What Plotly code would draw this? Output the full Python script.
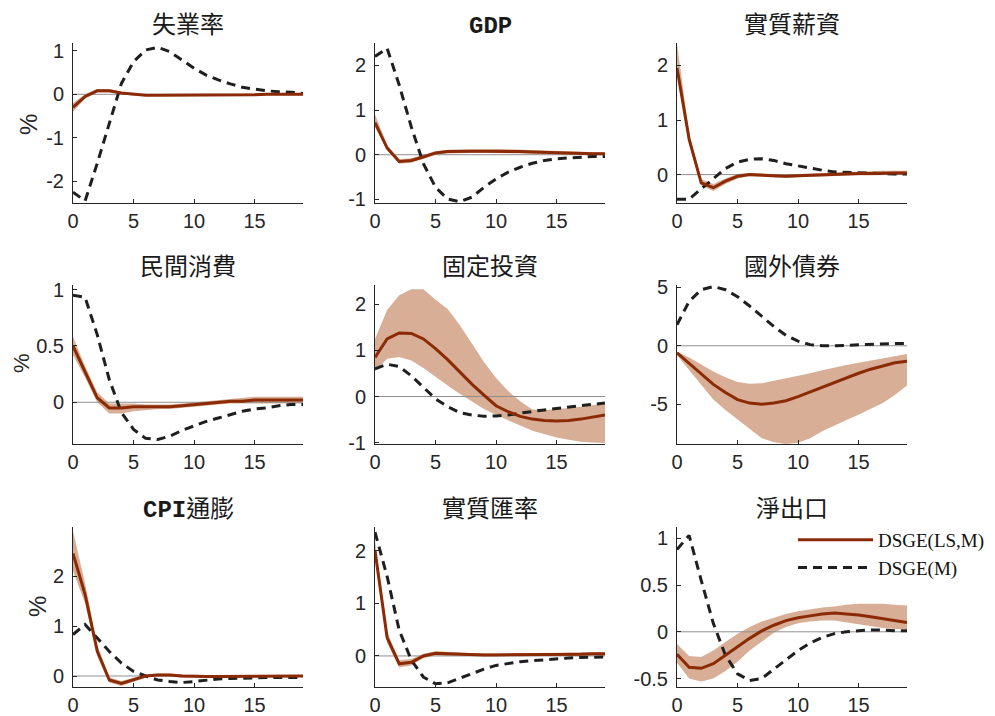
import plotly.graph_objects as go

steps = list(range(20))
titles = ["失業率", "<b>GDP</b>", "實質薪資", "民間消費", "固定投資", "國外債券", "<b>CPI</b>通膨", "實質匯率", "淨出口"]
series_names = ["DSGE(LS,M)", "DSGE(M)"]

# DSGE(LS,M) median, band upper/lower; DSGE(M) line
ls_mid = [
    [-0.30,-0.05,0.08,0.08,0.03,0.00,-0.02,-0.02,-0.02,-0.02,-0.02,-0.02,-0.02,-0.01,-0.01,-0.01,0.00,0.00,0.00,0.00],
    [0.72,0.15,-0.15,-0.13,-0.05,0.04,0.07,0.08,0.08,0.08,0.08,0.07,0.07,0.06,0.05,0.04,0.03,0.03,0.02,0.02],
    [1.95,0.65,-0.15,-0.24,-0.12,-0.03,0.00,-0.01,-0.03,-0.03,-0.02,-0.01,0.00,0.01,0.02,0.02,0.02,0.03,0.03,0.03],
    [0.50,0.27,0.04,-0.05,-0.05,-0.04,-0.04,-0.04,-0.04,-0.03,-0.02,-0.01,0.00,0.01,0.01,0.02,0.02,0.02,0.02,0.02],
    [0.85,1.25,1.38,1.37,1.25,1.04,0.80,0.53,0.27,0.03,-0.20,-0.33,-0.43,-0.49,-0.52,-0.53,-0.52,-0.49,-0.45,-0.40],
    [-0.60,-1.50,-2.40,-3.30,-4.00,-4.60,-4.90,-5.00,-4.90,-4.70,-4.35,-3.95,-3.50,-3.10,-2.70,-2.35,-2.00,-1.70,-1.45,-1.32],
    [2.45,1.63,0.50,-0.08,-0.15,-0.07,0.00,0.02,0.02,0.00,-0.01,-0.01,-0.01,-0.01,-0.01,-0.01,0.00,0.00,0.00,0.00],
    [2.00,0.35,-0.15,-0.12,0.00,0.05,0.04,0.03,0.02,0.02,0.02,0.02,0.03,0.03,0.03,0.03,0.03,0.03,0.04,0.04],
    [-0.24,-0.38,-0.39,-0.34,-0.25,-0.16,-0.07,0.01,0.07,0.12,0.15,0.17,0.19,0.20,0.19,0.18,0.16,0.14,0.12,0.10],
]
ls_upper = [
    [-0.20,0.00,0.12,0.12,0.06,0.02,0.00,0.00,0.00,0.00,0.00,0.00,0.00,0.01,0.01,0.01,0.02,0.02,0.02,0.02],
    [0.90,0.22,-0.10,-0.08,0.00,0.08,0.11,0.12,0.12,0.12,0.13,0.12,0.11,0.10,0.09,0.08,0.07,0.06,0.05,0.05],
    [2.40,0.75,-0.08,-0.17,-0.07,0.01,0.03,0.02,0.00,0.00,0.01,0.02,0.03,0.04,0.05,0.06,0.06,0.07,0.07,0.07],
    [0.58,0.32,0.09,-0.01,-0.01,-0.01,-0.02,-0.02,-0.02,-0.01,0.00,0.01,0.02,0.03,0.04,0.05,0.05,0.05,0.05,0.05],
    [1.25,1.88,2.20,2.33,2.33,2.10,1.90,1.55,1.15,0.75,0.40,0.12,-0.10,-0.28,-0.30,-0.28,-0.25,-0.22,-0.18,-0.15],
    [-0.50,-1.00,-1.60,-2.20,-2.70,-3.10,-3.25,-3.20,-3.00,-2.80,-2.60,-2.35,-2.10,-1.85,-1.65,-1.45,-1.25,-1.05,-0.85,-0.70],
    [2.90,1.85,0.62,-0.03,-0.10,-0.03,0.03,0.05,0.05,0.03,0.02,0.02,0.02,0.02,0.02,0.02,0.03,0.03,0.03,0.02],
    [2.20,0.45,-0.08,-0.06,0.04,0.09,0.08,0.06,0.05,0.05,0.05,0.05,0.06,0.06,0.06,0.06,0.07,0.07,0.07,0.07],
    [-0.13,-0.26,-0.27,-0.20,-0.11,-0.02,0.05,0.11,0.15,0.19,0.22,0.24,0.26,0.27,0.29,0.30,0.30,0.30,0.29,0.28],
]
ls_lower = [
    [-0.40,-0.10,0.04,0.04,0.00,-0.03,-0.04,-0.04,-0.04,-0.04,-0.04,-0.04,-0.04,-0.03,-0.03,-0.03,-0.02,-0.02,-0.02,-0.02],
    [0.62,0.10,-0.20,-0.18,-0.09,0.00,0.03,0.04,0.04,0.04,0.04,0.03,0.03,0.02,0.01,0.01,0.00,0.00,0.00,0.00],
    [1.85,0.55,-0.20,-0.30,-0.17,-0.07,-0.03,-0.04,-0.06,-0.06,-0.05,-0.04,-0.03,-0.02,-0.01,-0.01,-0.01,0.00,0.00,0.00],
    [0.42,0.22,0.00,-0.10,-0.10,-0.08,-0.07,-0.06,-0.06,-0.05,-0.04,-0.03,-0.02,-0.01,-0.01,-0.01,-0.01,-0.01,-0.01,-0.01],
    [0.55,0.82,0.86,0.78,0.62,0.42,0.24,0.06,-0.11,-0.27,-0.40,-0.52,-0.63,-0.74,-0.82,-0.89,-0.94,-0.98,-1.00,-1.01],
    [-0.80,-2.05,-3.30,-4.60,-5.50,-6.30,-7.10,-7.90,-8.25,-8.40,-8.30,-7.90,-7.30,-6.80,-6.35,-5.90,-5.40,-4.90,-4.20,-3.40],
    [2.10,1.45,0.40,-0.13,-0.20,-0.11,-0.03,-0.01,-0.01,-0.03,-0.03,-0.03,-0.03,-0.03,-0.03,-0.03,-0.02,-0.02,-0.02,-0.02],
    [1.90,0.25,-0.22,-0.18,-0.04,0.01,0.00,0.00,-0.01,-0.01,-0.01,-0.01,0.00,0.00,0.00,0.00,0.00,0.00,0.01,0.01],
    [-0.33,-0.50,-0.53,-0.50,-0.42,-0.32,-0.20,-0.10,-0.01,0.05,0.09,0.11,0.12,0.12,0.10,0.08,0.06,0.04,0.03,0.03],
]
m_line = [
    [-2.25,-2.45,-1.59,-0.67,0.25,0.75,1.02,1.08,0.98,0.79,0.60,0.44,0.33,0.24,0.16,0.12,0.08,0.06,0.05,0.02],
    [2.20,2.38,1.56,0.62,-0.20,-0.73,-0.99,-1.05,-0.95,-0.73,-0.54,-0.39,-0.28,-0.19,-0.13,-0.09,-0.07,-0.05,-0.04,-0.04],
    [-0.45,-0.45,-0.26,-0.07,0.11,0.23,0.28,0.29,0.26,0.20,0.16,0.11,0.08,0.05,0.04,0.03,0.02,0.02,0.01,0.01],
    [0.95,0.93,0.60,0.20,-0.09,-0.24,-0.32,-0.33,-0.30,-0.25,-0.21,-0.17,-0.14,-0.11,-0.08,-0.06,-0.05,-0.03,-0.02,-0.02],
    [0.60,0.70,0.65,0.45,0.20,-0.05,-0.22,-0.35,-0.40,-0.43,-0.42,-0.40,-0.36,-0.32,-0.29,-0.26,-0.23,-0.20,-0.17,-0.14],
    [1.80,3.80,4.80,5.07,4.80,4.20,3.40,2.50,1.65,0.90,0.40,0.10,0.00,0.00,0.05,0.10,0.15,0.15,0.20,0.20],
    [0.83,1.03,0.76,0.49,0.26,0.09,0.00,-0.08,-0.11,-0.13,-0.11,-0.08,-0.06,-0.05,-0.04,-0.04,-0.03,-0.03,-0.03,-0.03],
    [2.35,1.51,0.49,-0.08,-0.40,-0.53,-0.51,-0.42,-0.33,-0.25,-0.18,-0.14,-0.11,-0.09,-0.07,-0.05,-0.04,-0.03,-0.03,-0.02],
    [0.88,1.03,0.55,0.09,-0.25,-0.45,-0.52,-0.50,-0.40,-0.30,-0.20,-0.12,-0.06,-0.02,0.00,0.01,0.02,0.02,0.01,0.01],
]
zero_line = [0.0] * 20

y_ranges = [[-2.5, 1.18], [-1.08, 2.5], [-0.52, 2.41], [-0.37, 1.04], [-1.03, 2.42],
            [-8.4, 5.2], [-0.22, 2.98], [-0.59, 2.45], [-0.59, 1.12]]
y_tickvals = [[-2, -1, 0, 1], [-1, 0, 1, 2], [0, 1, 2], [0, 0.5, 1], [-1, 0, 1, 2],
              [-5, 0, 5], [0, 1, 2], [0, 1, 2], [-0.5, 0, 0.5, 1]]
y_ticktext = [["-2", "-1", "0", "1"], ["-1", "0", "1", "2"], ["0", "1", "2"], ["0", "0.5", "1"],
              ["-1", "0", "1", "2"], ["-5", "0", "5"], ["0", "1", "2"], ["0", "1", "2"],
              ["-0.5", "0", "0.5", "1"]]
x_tickvals = [0, 5, 10, 15]
x_ticktext = ["0", "5", "10", "15"]
ylabel = "%"

# page body has an 8px margin, so the figure is offset by 8px within the 995x716 window
OFF = 8
W, H = 995 - OFF, 716 - OFF


def fx(px):
    return (px - OFF) / W


def fy(py):
    return 1 - (py - OFF) / H


col_px = [(73, 303), (375, 605), (677, 907)]
row_px = [(43, 203), (285, 444), (527, 687)]

LINE_RED = "#8B2A05"
BAND = "#D8AE96"
DARK = "#1f1f1f"
TICKFONT = dict(family="Liberation Sans, Arial, sans-serif", size=20, color="#262626")

fig = go.Figure()
layout = dict(
    width=W, height=H, margin=dict(l=0, r=0, t=0, b=0, autoexpand=False),
    paper_bgcolor="white", plot_bgcolor="white",
    showlegend=True,
    legend=dict(x=fx(793), y=fy(521), xanchor="left", yanchor="top",
                bgcolor="rgba(0,0,0,0)", borderwidth=0, traceorder="reversed",
                font=dict(family="Liberation Serif, Times New Roman, serif", size=19, color="#111"),
                itemwidth=75, tracegroupgap=0),
)
annotations = []

for i in range(9):
    r, c = divmod(i, 3)
    n = i + 1
    xa = "x" if n == 1 else f"x{n}"
    ya = "y" if n == 1 else f"y{n}"
    xkey = "xaxis" if n == 1 else f"xaxis{n}"
    ykey = "yaxis" if n == 1 else f"yaxis{n}"
    x0, x1 = col_px[c]
    yt, yb = row_px[r]
    layout[xkey] = dict(domain=[fx(x0), fx(x1)], anchor=ya, range=[0, 19],
                        tickvals=x_tickvals, ticktext=x_ticktext,
                        showline=True, linecolor="#262626", linewidth=1, mirror=False,
                        ticks="inside", ticklen=4, tickcolor="#262626",
                        showgrid=False, zeroline=False, tickfont=TICKFONT)
    layout[ykey] = dict(domain=[fy(yb), fy(yt)], anchor=xa, range=y_ranges[i],
                        tickvals=y_tickvals[i], ticktext=y_ticktext[i],
                        showline=True, linecolor="#262626", linewidth=1, mirror=False,
                        ticks="inside", ticklen=4, tickcolor="#262626", ticklabelstandoff=4,
                        showgrid=False, zeroline=False, tickfont=TICKFONT)

    # band
    fig.add_trace(go.Scatter(x=steps, y=ls_lower[i], xaxis=xa, yaxis=ya, mode="lines",
                             line=dict(width=0, color=BAND), showlegend=False, hoverinfo="skip"))
    fig.add_trace(go.Scatter(x=steps, y=ls_upper[i], xaxis=xa, yaxis=ya, mode="lines",
                             line=dict(width=0, color=BAND), fill="tonexty", fillcolor=BAND,
                             showlegend=False, hoverinfo="skip"))
    # zero line
    fig.add_trace(go.Scatter(x=steps, y=zero_line, xaxis=xa, yaxis=ya, mode="lines",
                             line=dict(width=1, color="#8f8f8f"), showlegend=False, hoverinfo="skip"))
    # DSGE(M)
    fig.add_trace(go.Scatter(x=steps, y=m_line[i], xaxis=xa, yaxis=ya, mode="lines",
                             name=series_names[1],
                             line=dict(width=3, color=DARK, dash="9px,6px"),
                             showlegend=(i == 8)))
    # DSGE(LS,M)
    fig.add_trace(go.Scatter(x=steps, y=ls_mid[i], xaxis=xa, yaxis=ya, mode="lines",
                             name=series_names[0],
                             line=dict(width=3, color=LINE_RED),
                             showlegend=(i == 8)))

    annotations.append(dict(
        text=titles[i], xref="paper", yref="paper",
        x=(fx(x0) + fx(x1)) / 2, y=fy(yt), xanchor="center", yanchor="bottom",
        yshift=1, showarrow=False,
        font=dict(family="Liberation Mono, Noto Sans CJK TC, sans-serif", size=24, color="#1a1a1a")))

pct_pos = [(28, 125, 24), (22, 363, 22), (37, 607, 24)]
for (px, py, fs) in pct_pos:
    annotations.append(dict(text=ylabel, xref="paper", yref="paper", x=fx(px), y=fy(py),
                            xanchor="center", yanchor="middle", textangle=-90, showarrow=False,
                            font=dict(family="Liberation Sans, Arial, sans-serif", size=fs, color="#262626")))

layout["annotations"] = annotations
fig.update_layout(**layout)
fig.write_html("out.html")
